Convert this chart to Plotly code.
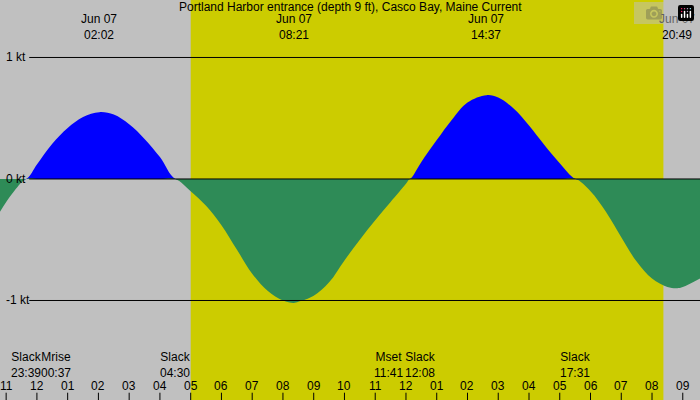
import plotly.graph_objects as go

# hours relative to Jun 07 00:00
times = [-1.2,-0.8,-0.35,0,0.5,1,1.5,2.03,2.5,3,3.5,4,4.5,5,5.5,6,6.5,7,7.5,8,8.35,8.5,9,9.5,10,10.5,11,11.5,12,12.13,
         12.5,13,13.5,14,14.62,15,15.5,16,16.5,17,17.52,18,18.5,19,19.5,20,20.5,20.82,21,21.56]
speed = [-0.27,-0.12,0,0.12,0.29,0.42,0.51,0.55,0.53,0.45,0.33,0.18,0,-0.1,-0.22,-0.38,-0.58,-0.78,-0.92,-1.0,-1.02,-1.01,-0.96,-0.85,-0.67,-0.5,-0.34,-0.19,-0.04,0,
         0.14,0.32,0.49,0.63,0.69,0.67,0.58,0.44,0.28,0.13,0,-0.1,-0.27,-0.48,-0.68,-0.82,-0.89,-0.9,-0.89,-0.82]
peak_times = [2.033, 8.35, 14.617, 20.817]
peak_labels = ["Jun 07<br>02:02", "Jun 07<br>08:21", "Jun 07<br>14:37", "Jun 07<br>20:49"]
event_times = [-0.35, 0.617, 4.5, 11.683, 12.133, 17.517]
event_labels = ["Slack<br>23:39", "Mrise<br>00:37", "Slack<br>04:30", "Mset<br>11:41", "Slack<br>12:08", "Slack<br>17:31"]
event_shift = [0, 0, 0, -8, 10, 0]
tick_hours = list(range(-1, 22))
tick_labels = ["11","12","01","02","03","04","05","06","07","08","09","10","11","12","01","02","03","04","05","06","07","08","09"]
levels = [1, 0, -1]
level_labels = ["1 kt", "0 kt", "-1 kt"]
sunrise, sunset = 5.0, 20.37
XR = [-1.2, 21.56]
YR = [-1.819, 1.473]
FONT = dict(family="Liberation Sans, Arial", size=12, color="black")

fig = go.Figure()
fig.add_trace(go.Scatter(x=times, y=[max(v, 0) for v in speed], fill="tozeroy", mode="none",
                         fillcolor="#0000ff", line_shape="spline"))
fig.add_trace(go.Scatter(x=times, y=[min(v, 0) for v in speed], fill="tozeroy", mode="none",
                         fillcolor="#2e8b57", line_shape="spline"))
fig.add_shape(type="rect", x0=sunrise, x1=sunset, y0=YR[0], y1=YR[1], fillcolor="#cccc00",
              line_width=0, layer="below")
for lv, lb in zip(levels, level_labels):
    fig.add_shape(type="line", x0=-0.25, x1=XR[1], y0=lv, y1=lv, line=dict(color="black", width=1))
    fig.add_annotation(x=XR[0], y=lv, text=lb, showarrow=False, xanchor="left", xshift=4, font=FONT)
for t, lb in zip(peak_times, peak_labels):
    fig.add_annotation(x=t, y=YR[1], text=lb, showarrow=False, yanchor="top", yshift=-10, font=FONT)
for t, lb, s in zip(event_times, event_labels, event_shift):
    fig.add_annotation(x=t, y=YR[0], text=lb, showarrow=False, yanchor="bottom", yshift=18, xshift=s, font=FONT)
for h, lb in zip(tick_hours, tick_labels):
    fig.add_annotation(x=h, y=YR[0], text=lb, showarrow=False, yanchor="bottom", yshift=5, font=FONT)
    fig.add_shape(type="line", x0=h, x1=h, y0=YR[0], y1=YR[0] + 0.06, line=dict(color="black", width=1))
fig.add_annotation(x=0.5, xref="paper", y=1, yref="paper",
                   text="Portland Harbor entrance (depth 9 ft), Casco Bay, Maine Current",
                   showarrow=False, yanchor="top", yshift=2, font=FONT)
fig.update_layout(width=700, height=400, margin=dict(l=0, r=0, t=0, b=0), showlegend=False,
                  paper_bgcolor="#c0c0c0", plot_bgcolor="#c0c0c0",
                  xaxis=dict(range=XR, visible=False, fixedrange=True),
                  yaxis=dict(range=YR, visible=False, fixedrange=True))
fig.write_html("out.html", post_script="document.body.style.margin='0';")
